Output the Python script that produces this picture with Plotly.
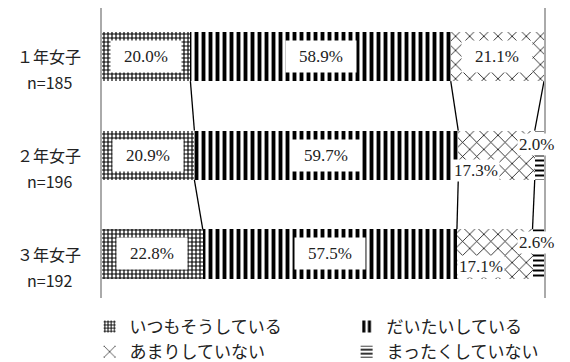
import plotly.graph_objects as go
import numpy as np

grades = ["１年女子", "２年女子", "３年女子"]
counts = ["n=185", "n=196", "n=192"]
answers = ["いつもそうしている", "だいたいしている", "あまりしていない", "まったくしていない"]
always = [20.0, 20.9, 22.8]
mostly = [58.9, 59.7, 57.5]
rarely = [21.1, 17.3, 17.1]
never = [0.0, 2.0, 2.6]

series = [always, mostly, rarely, never]
patterns = [
    dict(shape="+", size=4, solidity=0.5),
    dict(shape="|", size=7, solidity=0.55),
    dict(shape="x", size=10, solidity=0.15),
    dict(shape="-", size=5, solidity=0.4),
]

ypos = np.arange(len(grades))
bar_w = 0.5

fig = go.Figure()
for name, vals, pat in zip(answers, series, patterns):
    fig.add_trace(go.Bar(
        y=ypos, x=vals, name=name, orientation="h", width=bar_w,
        marker=dict(color="white", line=dict(width=0),
                    pattern=dict(fgcolor="black", bgcolor="white", fillmode="replace", **pat)),
        hoverinfo="skip",
    ))

# connector lines between bars at each segment boundary
cum = np.cumsum(np.array(series), axis=0)
for k in range(3):
    for i in range(len(grades) - 1):
        fig.add_shape(type="line", xref="x", yref="y",
                      x0=cum[k][i], y0=ypos[i] + bar_w / 2,
                      x1=cum[k][i + 1], y1=ypos[i + 1] - bar_w / 2,
                      line=dict(color="black", width=1.3))

# value labels (small segments get their label nudged off the bar centre)
starts = cum - np.array(series)
offsets = {(2, 1): (-20, 15), (3, 1): (-3, -11), (2, 2): (-14, 13), (3, 2): (-2, -11)}
for k, vals in enumerate(series):
    for i, v in enumerate(vals):
        if v <= 0:
            continue
        dx, dy = offsets.get((k, i), (0, 0))
        box = {} if (k, i) in offsets else dict(width=64, height=25)
        fig.add_annotation(x=starts[k][i] + v / 2, y=ypos[i], xref="x", yref="y",
                           text=f"{v:.1f}%", showarrow=False, xshift=dx, yshift=-dy,
                           bgcolor="white", borderpad=3 if box else 1, **box,
                           font=dict(family="Liberation Serif", size=17, color="#222"))

# category labels: grade and sample size on separate lines
for i in range(len(grades)):
    for txt, ys in ((grades[i], 0), (counts[i], -26)):
        fig.add_annotation(x=0, y=ypos[i], xref="paper", yref="y", xanchor="center",
                           xshift=-53, yshift=ys, showarrow=False, text=txt,
                           font=dict(family="Noto Sans CJK JP", size=16, color="#222"))

fig.update_layout(
    barmode="stack",
    width=570, height=362,
    margin=dict(l=102, r=26, t=8, b=64, autoexpand=False),
    paper_bgcolor="white", plot_bgcolor="white",
    showlegend=True,
    legend=dict(orientation="h", x=-0.028, y=-0.038, xanchor="left", yanchor="top",
                traceorder="normal", entrywidth=212, entrywidthmode="pixels",
                itemwidth=30, tracegroupgap=0, bgcolor="rgba(0,0,0,0)",
                font=dict(family="Noto Sans CJK JP", size=17, color="#222")),
    xaxis=dict(range=[0, 100], showticklabels=False, showgrid=False, zeroline=False,
               showline=False),
    yaxis=dict(range=[2.446, -0.491], showticklabels=False, showgrid=False, zeroline=False,
               showline=True, mirror=True, linecolor="#aaa", linewidth=2),
)

fig.write_html("out.html", config={"displayModeBar": False},
               post_script="document.body.style.margin='0';")
